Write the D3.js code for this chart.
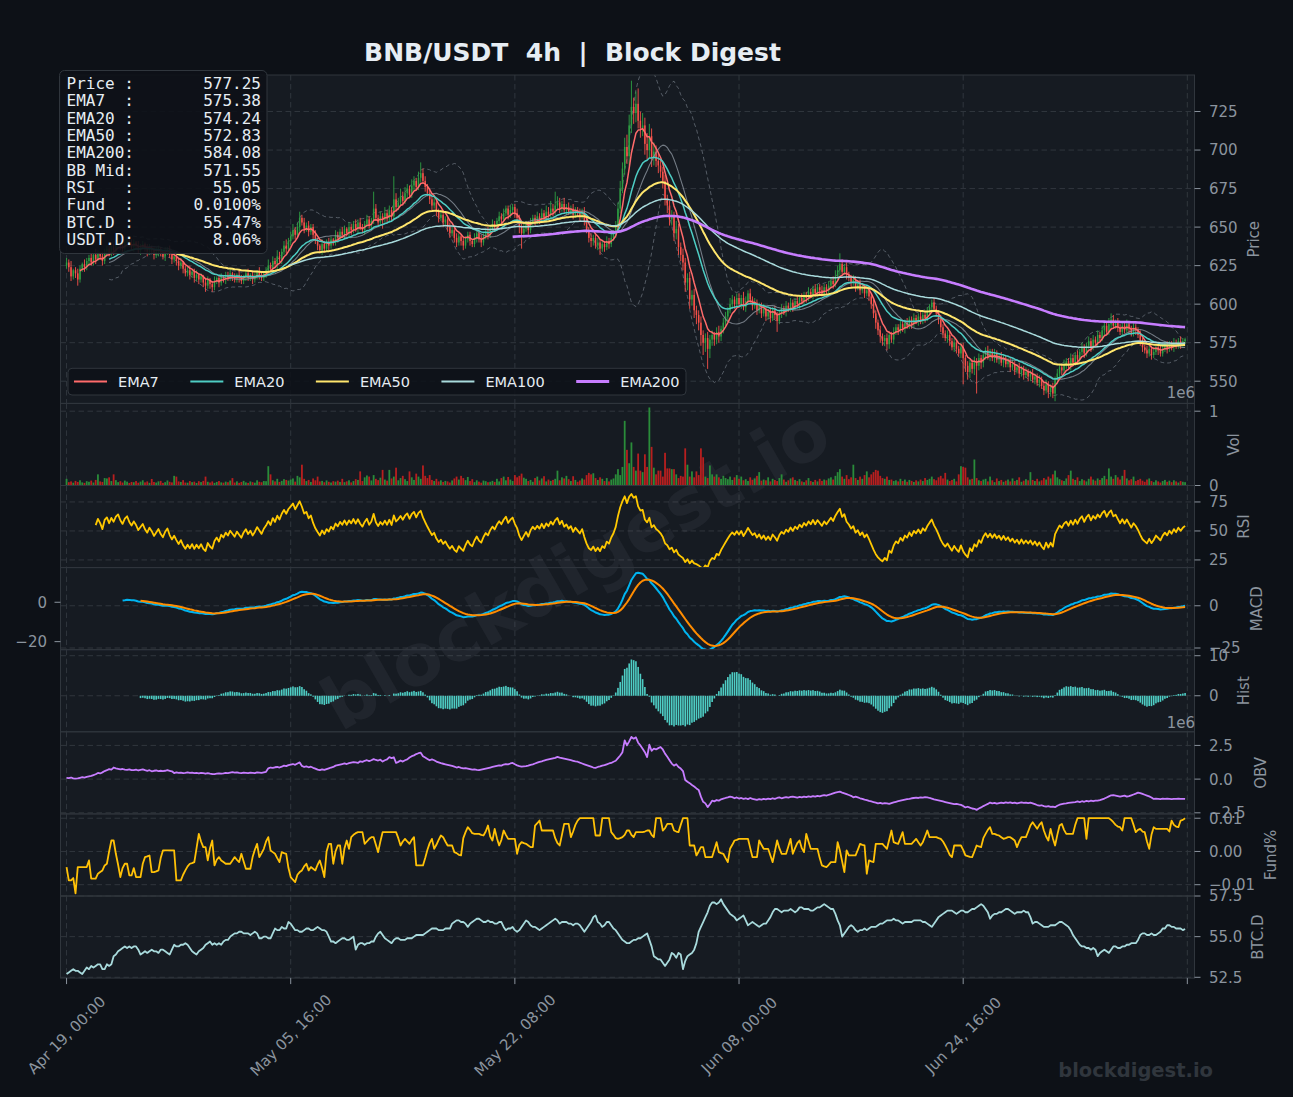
<!DOCTYPE html>
<html><head><meta charset="utf-8">
<script src="https://cdn.jsdelivr.net/npm/d3@7"></script>
<style>
html,body{margin:0;padding:0;background:#0d1117;}
svg{display:block;font-family:"DejaVu Sans",sans-serif;}
</style></head><body>
<svg id="chart" width="1293" height="1097"></svg>
<script>
// ---------------- DATA ----------------
const titleText = "BNB/USDT  4h  |  Block Digest";
const firstOpen = 625;
// 4h closes, candle 0 = Apr 19 00:00
const close = [
/*0*/627,624,618,622,620,616,623,626,624,628,
/*10*/630,627,632,629,633,631,628,634,636,633,
/*20*/637,635,639,641,638,636,640,642,639,637,
/*30*/640,638,635,637,639,636,634,637,635,632,
/*40*/634,636,633,631,634,636,632,629,631,628,
/*50*/625,627,623,620,622,619,621,617,619,616,
/*60*/618,614,612,616,613,611,615,617,614,618,
/*70*/616,619,617,620,618,616,619,617,615,618,
/*80*/620,617,619,616,618,621,619,617,620,622,
/*90*/625,623,628,626,631,629,634,638,636,641,
/*100*/644,648,645,650,656,653,649,651,647,650,
/*110*/645,641,638,635,639,636,640,638,642,640,
/*120*/645,643,647,645,649,646,650,648,652,649,
/*130*/653,650,648,652,655,651,654,662,656,653,
/*140*/657,655,659,656,661,657,668,663,666,670,
/*150*/667,672,675,671,677,680,676,682,685,680,
/*160*/676,672,668,664,666,660,656,658,653,655,
/*170*/650,646,648,643,640,644,641,638,642,645,
/*180*/641,639,643,646,642,640,644,647,645,649,
/*190*/652,650,654,657,655,659,662,658,661,663,
/*200*/659,656,650,646,649,652,648,653,656,654,
/*210*/657,655,659,656,660,658,662,660,664,666,
/*220*/662,665,661,663,660,662,658,661,659,657,
/*230*/660,654,648,643,641,643,638,640,636,639,
/*240*/637,641,639,643,646,651,662,675,688,702,
/*250*/696,716,728,724,730,719,714,716,704,700,
/*260*/709,695,699,693,690,686,680,668,664,655,
/*270*/657,646,649,637,632,627,614,617,603,606,
/*280*/596,593,588,580,575,578,571,577,580,577,
/*290*/582,579,584,588,592,596,600,603,600,604,
/*300*/600,604,598,602,607,603,599,601,596,599,
/*310*/594,597,592,595,591,596,593,589,594,597,
/*320*/595,599,597,601,598,602,600,604,602,606,
/*330*/604,608,606,610,607,611,609,607,611,609,
/*340*/612,615,613,618,622,626,621,624,619,617,
/*350*/614,616,611,613,609,611,607,609,605,600,
/*360*/594,588,583,579,576,578,574,580,577,582,
/*370*/585,583,587,584,588,586,590,587,591,589,
/*380*/592,589,593,591,595,598,601,597,594,590,
/*390*/585,581,578,580,576,572,575,571,568,572,
/*400*/565,560,556,562,558,563,560,565,562,567,
/*410*/570,566,569,565,568,564,566,562,565,561,
/*420*/563,559,561,557,559,555,558,554,556,553,
/*430*/555,551,553,549,551,547,544,548,543,546,
/*440*/542,551,555,559,557,561,563,560,565,562,
/*450*/567,564,569,572,568,573,576,572,577,575,
/*460*/580,578,583,586,582,587,590,586,588,585,
/*470*/582,586,583,587,584,581,585,583,580,576,
/*480*/572,570,568,571,567,569,572,570,568,571,
/*490*/573,571,574,572,575,573,576,574,576,577.25
];
// wick length above / below the candle body (price units)
const wickUp = [
3,2,4,1,2,3,2,1,3,2, 2,3,1,4,2,1,3,2,2,3, 1,2,3,2,1,3,2,1,2,3, 2,1,3,2,2,1,3,2,1,2, 3,2,1,2,3,1,2,3,2,1,
2,3,1,2,2,3,1,2,3,1, 2,1,3,2,1,2,3,1,2,2, 1,2,2,3,1,2,1,3,2,1, 2,3,1,2,2,1,3,2,1,2, 4,2,3,2,4,3,2,3,4,2,
3,4,2,3,4,2,3,2,3,2, 2,3,2,1,3,2,2,3,2,1, 3,2,2,3,2,1,3,2,2,3, 2,3,2,2,3,2,2,11,3,2, 3,2,4,2,3,2,15,4,3,5,
3,4,3,2,4,3,2,4,7,3, 3,2,3,2,3,2,2,3,2,2, 2,3,2,2,3,2,1,3,2,2, 2,1,3,2,2,3,2,2,3,2, 3,2,2,3,2,3,2,2,3,2,
2,3,2,2,3,2,2,3,2,2, 3,2,3,2,4,3,5,3,9,4, 3,2,4,2,3,2,3,2,2,3, 2,3,2,2,3,2,2,3,2,2, 2,3,2,3,2,3,4,5,4,6,
8,7,17,6,8,10,6,8,5,7, 8,5,6,4,5,4,3,4,3,3, 4,3,5,3,3,4,3,3,4,3, 4,3,3,4,3,3,4,3,3,2, 3,4,2,3,3,2,4,3,2,3,
3,2,4,3,2,3,2,3,2,2, 2,3,2,2,3,2,3,2,2,3, 2,3,2,3,2,2,3,2,3,2, 2,3,2,2,3,2,2,3,2,2, 3,2,3,4,3,7,3,2,3,2,
2,3,2,2,3,2,2,3,2,2, 3,2,2,3,2,2,3,2,2,3, 2,2,3,2,2,3,2,2,3,2, 2,3,2,2,3,2,2,3,2,2, 3,2,2,3,2,2,3,2,2,3,
3,2,3,2,2,3,2,3,2,2, 2,3,2,2,3,2,2,3,2,2, 2,2,3,2,2,3,2,2,3,2, 2,3,2,2,3,2,2,3,2,2, 3,2,3,2,2,3,2,2,3,2,
2,3,2,3,2,2,3,2,3,2, 3,2,3,2,3,4,4,3,2,3, 2,3,2,3,2,2,3,2,2,3, 2,2,3,2,2,3,2,2,3,2, 2,3,2,2,3,2,2,3,2,1
];
const wickDn = [
2,3,3,2,3,4,2,2,3,2, 3,2,2,3,1,2,3,2,3,2, 2,3,2,1,3,2,2,3,2,2, 3,2,2,3,1,2,3,2,2,3, 2,3,2,2,3,2,2,3,2,3,
3,2,3,2,2,3,2,3,2,3, 2,3,4,2,3,3,2,2,3,2, 2,3,2,2,3,2,2,3,2,2, 3,2,2,3,2,2,3,2,2,3, 3,2,3,2,3,2,3,2,3,2,
3,2,3,2,3,2,3,2,3,2, 3,2,3,2,3,2,2,3,2,2, 2,3,2,2,3,2,2,3,2,2, 3,2,2,3,2,2,3,2,2,3, 2,6,2,3,2,3,2,3,2,2,
3,2,3,2,2,3,2,2,3,2, 3,2,3,3,2,3,3,2,3,2, 3,3,2,3,3,2,3,3,2,2, 3,2,2,3,2,3,2,2,3,2, 2,3,2,2,3,2,2,3,2,2,
3,2,4,10,3,2,3,2,2,3, 2,3,2,2,3,2,2,3,2,2, 3,2,2,3,2,2,3,2,2,3, 2,3,2,3,4,3,2,3,4,2, 3,2,3,2,2,3,2,3,3,4,
5,6,5,7,6,5,6,5,7,6, 5,6,5,4,5,4,5,4,5,4, 4,5,4,5,4,5,6,5,6,4, 5,6,5,7,8,6,13,6,4,4, 3,4,3,3,2,3,2,3,3,2,
2,3,2,3,2,3,3,2,3,2, 3,2,3,2,3,2,3,7,2,3, 2,3,2,2,3,2,2,3,2,2, 3,2,2,3,2,2,3,2,2,3, 2,2,3,2,2,3,2,2,3,2,
3,2,3,2,3,2,3,2,3,3, 3,4,3,4,3,3,4,3,2,3, 2,3,2,2,3,2,2,3,2,2, 3,2,2,3,2,2,3,2,2,3, 3,3,2,3,3,2,3,3,2,3,
17,4,5,4,3,4,18,3,4,3, 3,2,3,2,3,2,3,2,3,2, 2,3,2,3,2,3,2,3,2,3, 3,2,3,2,3,2,3,2,4,3, 3,5,3,2,3,2,3,2,3,2,
2,3,2,2,3,2,2,3,2,2, 3,2,2,3,2,2,3,2,2,3, 2,3,2,2,3,2,2,3,2,3, 3,2,3,2,3,2,2,3,2,2, 2,3,2,2,3,2,2,3,2,2
];
// volume, thousands
const volK = [
/*0*/90,45,55,38,62,48,70,42,35,58, 50,66,40,75,150,55,48,100,95,110,
/*20*/60,150,72,45,58,40,66,52,35,48, 44,60,38,52,70,42,55,36,88,47,
/*40*/40,56,62,35,45,68,50,42,130,120, 55,48,72,40,38,60,45,52,34,58,
/*60*/46,62,120,50,40,55,35,48,60,42, 38,52,44,66,100,40,56,36,48,62,
/*80*/42,35,55,45,38,70,50,44,60,58, 260,150,70,55,90,48,62,85,75,66,
/*100*/80,95,52,130,110,280,90,60,75,48, 95,70,120,55,62,44,68,50,40,58,
/*120*/52,65,48,90,45,56,70,42,60,85, 75,190,60,110,135,120,68,140,90,72,
/*140*/105,210,80,65,210,95,120,240,70,100, 130,85,60,190,110,75,160,120,90,270,
/*160*/130,100,140,75,60,90,55,70,48,62, 55,40,68,95,120,80,130,100,72,115,
/*180*/60,85,45,70,52,38,66,58,44,50, 62,48,90,55,100,120,70,115,80,60,
/*200*/140,110,130,160,105,90,60,75,50,100, 120,68,95,125,55,80,62,75,90,200,
/*220*/70,110,95,130,85,60,125,75,50,68, 95,80,140,170,150,165,100,75,110,90,
/*240*/60,100,55,80,95,150,220,140,250,870, 480,300,580,250,200,430,200,180,420,250,
/*260*/1050,520,240,150,200,200,120,440,230,230, 220,220,150,100,130,120,500,280,120,190,
/*280*/110,190,140,500,380,120,100,270,150,120, 150,110,90,130,100,85,120,75,110,140,
/*300*/90,120,70,85,60,110,75,95,130,180, 65,80,70,110,55,90,75,60,100,150,
/*320*/80,50,70,95,110,75,60,85,55,45, 70,100,60,48,75,55,90,62,80,70,
/*340*/95,110,80,130,180,220,120,90,140,85, 110,280,100,75,120,90,140,190,110,150,
/*360*/180,210,200,130,100,90,120,75,80,60, 70,55,90,60,80,50,75,62,48,70,
/*380*/55,80,60,100,75,90,120,85,70,110, 130,95,170,80,60,75,90,55,150,260,
/*400*/250,240,110,80,90,350,100,70,60,80, 90,55,120,70,45,95,60,75,50,65,
/*420*/80,55,95,60,75,110,50,65,85,70, 180,75,60,90,55,70,100,80,120,95,
/*440*/150,200,110,85,70,60,95,140,200,90, 75,110,60,85,70,55,90,120,80,65,
/*460*/95,75,100,130,85,230,120,90,140,110, 80,130,210,95,70,85,120,60,75,90,
/*480*/65,50,80,95,60,45,70,55,40,60, 75,50,65,45,70,55,40,60,50,45
];
// on-balance volume, millions
const obvM = [
/*0*/0.10,0.08,0.12,0.06,0.04,0.05,0.10,0.14,0.11,0.16, 0.20,0.24,0.30,0.36,0.46,0.42,0.50,0.60,0.66,0.74,
/*20*/0.70,0.86,0.80,0.76,0.72,0.75,0.70,0.68,0.72,0.66, 0.66,0.70,0.64,0.68,0.72,0.66,0.62,0.66,0.58,0.62,
/*40*/0.64,0.60,0.62,0.60,0.62,0.66,0.62,0.58,0.45,0.50, 0.46,0.48,0.44,0.46,0.50,0.46,0.48,0.44,0.46,0.42,
/*60*/0.46,0.44,0.40,0.44,0.40,0.38,0.37,0.40,0.42,0.40, 0.42,0.46,0.44,0.48,0.52,0.48,0.50,0.46,0.44,0.48,
/*80*/0.46,0.44,0.48,0.46,0.44,0.50,0.48,0.46,0.50,0.54, 0.80,0.86,0.84,0.88,0.90,0.86,0.92,1.00,0.96,1.04,
/*100*/1.08,1.12,1.06,1.16,1.24,0.98,0.90,0.94,0.88,0.92, 0.84,0.78,0.70,0.66,0.72,0.68,0.74,0.80,0.86,0.90,
/*120*/1.00,1.04,1.08,1.12,1.16,1.12,1.18,1.22,1.26,1.24, 1.20,1.32,1.28,1.36,1.40,1.34,1.40,1.48,1.42,1.38,
/*140*/1.44,1.30,1.40,1.46,1.63,1.56,1.62,1.20,1.28,1.38, 1.30,1.40,1.46,1.60,1.70,1.76,1.86,1.92,1.96,1.70,
/*160*/1.60,1.50,1.40,1.46,1.40,1.30,1.24,1.18,1.14,1.10, 1.06,1.02,0.98,0.92,0.86,0.90,0.84,0.80,0.82,0.78,
/*180*/0.74,0.70,0.72,0.68,0.66,0.70,0.74,0.78,0.82,0.86, 0.90,0.94,0.98,1.02,1.00,1.08,1.12,1.10,1.16,1.20,
/*200*/1.10,1.02,0.96,0.92,0.94,0.96,1.00,1.06,1.10,1.16, 1.22,1.28,1.32,1.38,1.42,1.46,1.50,1.54,1.58,1.65,
/*220*/1.60,1.56,1.52,1.48,1.44,1.40,1.36,1.32,1.29,1.22, 1.16,1.10,1.04,0.98,0.92,0.86,0.84,0.90,0.94,1.00,
/*240*/1.04,1.10,1.16,1.20,1.29,1.36,1.56,1.75,2.00,2.87, 2.50,2.80,3.13,3.00,3.10,2.70,2.50,2.26,2.00,1.64,
/*260*/2.55,2.10,2.26,2.20,2.30,2.38,2.20,1.89,1.66,1.40, 1.15,1.00,1.10,0.90,0.78,0.60,-0.07,-0.20,-0.30,-0.44,
/*280*/-0.55,-0.69,-0.80,-1.30,-1.68,-1.80,-2.08,-1.86,-1.60,-1.65, -1.55,-1.60,-1.50,-1.45,-1.40,-1.36,-1.30,-1.34,-1.42,-1.36,
/*300*/-1.44,-1.40,-1.46,-1.42,-1.48,-1.40,-1.46,-1.50,-1.54,-1.48, -1.52,-1.46,-1.50,-1.44,-1.48,-1.42,-1.46,-1.40,-1.36,-1.42,
/*320*/-1.38,-1.34,-1.38,-1.32,-1.30,-1.34,-1.38,-1.32,-1.36,-1.30, -1.34,-1.28,-1.32,-1.26,-1.30,-1.24,-1.28,-1.22,-1.18,-1.22,
/*340*/-1.16,-1.12,-1.06,-1.00,-0.96,-0.93,-1.00,-1.06,-1.12,-1.18, -1.24,-1.35,-1.30,-1.36,-1.42,-1.46,-1.52,-1.56,-1.62,-1.66,
/*360*/-1.70,-1.74,-1.80,-1.76,-1.82,-1.78,-1.80,-1.84,-1.78,-1.72, -1.68,-1.64,-1.60,-1.56,-1.52,-1.48,-1.46,-1.42,-1.40,-1.38,
/*380*/-1.40,-1.36,-1.38,-1.34,-1.35,-1.40,-1.44,-1.50,-1.54,-1.58, -1.62,-1.66,-1.70,-1.74,-1.78,-1.82,-1.86,-1.84,-1.88,-1.91,
/*400*/-2.00,-2.10,-2.05,-2.12,-2.18,-2.20,-2.28,-2.18,-2.10,-2.00, -1.92,-1.84,-1.74,-1.80,-1.76,-1.82,-1.78,-1.74,-1.78,-1.72,
/*420*/-1.76,-1.72,-1.78,-1.74,-1.80,-1.76,-1.72,-1.76,-1.74,-1.78, -1.74,-1.80,-1.86,-1.92,-1.96,-1.94,-2.00,-2.04,-2.00,-2.06,
/*440*/-2.04,-2.08,-1.98,-1.90,-1.86,-1.82,-1.80,-1.76,-1.74,-1.72, -1.70,-1.66,-1.70,-1.64,-1.68,-1.62,-1.66,-1.60,-1.64,-1.60,
/*460*/-1.60,-1.56,-1.50,-1.44,-1.36,-1.28,-1.20,-1.18,-1.22,-1.26, -1.30,-1.26,-1.22,-1.30,-1.26,-1.20,-1.14,-1.08,-1.00,-1.04,
/*480*/-1.10,-1.16,-1.22,-1.28,-1.36,-1.47,-1.44,-1.46,-1.48,-1.45, -1.47,-1.44,-1.46,-1.48,-1.46,-1.47,-1.45,-1.47,-1.46,-1.47
];
// funding rate in units of 0.0001 %
const fundE4 = [
/*0*/-47,-87,-87,-80,-126,-47,-47,-47,-47,-47, -27,-82,-82,-82,-67,-62,-57,-42,-37,0,
/*20*/33,33,-7,-40,-77,-50,-37,-37,-72,-72, -50,-77,-77,-77,-37,-17,-15,-12,-62,-62,
/*40*/-60,-57,-20,3,3,3,3,3,3,-87, -87,-87,-70,-57,-45,-37,-35,-32,10,53,
/*60*/30,13,13,-27,10,33,-42,-25,-17,-27, -32,-37,-37,-37,-27,-17,-25,-32,-7,-30,
/*80*/-52,-52,-52,-17,5,23,-17,-5,8,30, 43,3,-2,-7,-20,-32,-2,-5,-7,-50,
/*100*/-77,-85,-92,-70,-62,-57,-45,-37,-57,-47, -52,-57,-40,-27,-50,-77,0,23,23,-37,
/*120*/0,18,18,-37,10,33,8,43,50,55, 58,58,58,23,30,38,43,43,20,-2,
/*140*/30,58,58,58,58,58,58,58,40,18, 30,38,30,23,35,43,-42,-42,-42,-42,
/*160*/-20,5,25,38,8,20,35,48,43,30, 18,18,18,-2,-5,-10,-12,40,58,73,
/*180*/65,55,53,53,53,50,48,60,78,45, 33,68,40,18,35,63,50,38,38,38,
/*200*/38,-7,20,28,25,23,18,13,13,78, 85,93,63,63,63,63,63,63,40,25,
/*220*/18,50,83,83,83,43,60,80,93,100, 100,100,100,100,100,100,48,48,48,100,
/*240*/100,100,100,58,50,40,38,40,43,50, 63,63,50,43,58,58,58,58,60,63,
/*260*/63,50,43,100,100,100,63,70,83,83, 83,63,60,58,80,100,100,100,18,18,
/*280*/18,-12,0,13,13,-17,-17,-17,-17,5, 28,-2,-5,-7,-20,-32,8,20,33,35,
/*300*/38,38,38,38,38,10,-17,-17,-17,33, 20,8,8,8,-12,-32,0,33,10,-7,
/*320*/-7,-7,15,38,-7,10,25,33,10,-2, 53,30,8,8,8,8,-20,-42,-45,-47,
/*340*/-40,-32,-32,-32,28,3,-30,-62,3,-12, -12,-12,-12,5,23,20,18,-67,-27,-30,
/*360*/-32,23,23,23,23,15,8,35,63,28, 25,23,40,58,23,23,23,23,30,38,
/*380*/28,18,28,45,63,43,43,43,43,40, 38,30,18,5,-10,-17,18,18,18,18,
/*400*/5,-12,-14,-16,-17,0,18,15,13,40, 53,65,73,53,53,50,48,43,38,40,
/*420*/43,43,38,33,13,30,43,43,43,60, 78,88,78,68,80,88,63,45,33,68,
/*440*/40,18,50,78,83,65,53,53,53,53, 80,100,100,100,100,38,100,100,100,100,
/*460*/100,100,100,100,100,100,95,88,80,75, 73,63,100,100,100,100,80,58,65,68,
/*480*/60,58,30,8,50,73,68,68,68,68, 68,68,60,93,80,75,73,93,95,100
];
// BTC dominance, %
const btcDom = [
/*0*/52.7,52.8,52.9,53.0,52.9,52.9,52.8,52.7,52.9,53.1, 53.0,53.2,53.1,53.2,53.3,53.3,53.0,53.0,53.3,53.2,
/*20*/53.3,53.8,53.9,54.1,54.2,54.3,54.4,54.3,54.4,54.3, 54.4,54.4,54.2,53.9,54.0,54.1,54.0,54.1,54.2,54.1,
/*40*/54.1,54.0,54.2,54.2,54.1,54.0,53.9,54.2,54.5,54.4, 54.4,54.5,54.5,54.6,54.5,54.3,54.1,54.0,53.9,54.1,
/*60*/54.2,54.3,54.5,54.6,54.7,54.5,54.6,54.5,54.6,54.5, 54.7,54.8,54.8,55.0,55.1,55.2,55.2,55.3,55.3,55.2,
/*80*/55.2,55.2,55.1,55.2,55.3,55.2,54.9,54.9,55.0,55.0, 54.9,54.9,55.2,55.5,55.4,55.4,55.6,55.5,55.5,55.9,
/*100*/55.8,55.6,55.4,55.4,55.3,55.3,55.4,55.5,55.5,55.4, 55.4,55.5,55.6,55.5,55.4,55.4,55.3,55.0,54.7,54.7,
/*120*/54.6,54.7,54.8,54.9,54.9,54.8,54.8,54.9,55.0,54.2, 54.5,54.6,54.6,54.5,54.6,54.6,54.7,54.7,55.0,55.2,
/*140*/55.3,55.1,54.9,54.8,54.7,54.6,54.8,54.9,54.9,54.8, 54.8,54.8,54.9,54.9,54.9,55.0,55.1,55.1,55.1,55.1,
/*160*/55.2,55.3,55.4,55.5,55.5,55.5,55.4,55.4,55.4,55.5, 55.5,55.5,55.8,55.9,56.0,56.0,55.9,55.9,55.8,55.6,
/*180*/55.8,55.9,56.0,56.1,56.1,56.0,55.9,55.9,56.0,55.9, 55.9,55.8,55.8,55.9,55.9,55.6,55.4,55.5,55.5,55.6,
/*200*/55.4,55.3,55.4,55.6,55.8,56.0,55.9,55.7,55.6,55.6, 55.5,55.4,55.5,55.6,55.7,55.8,55.9,56.0,56.1,56.0,
/*220*/55.8,55.9,55.9,55.9,55.8,55.8,55.7,55.8,55.8,55.7, 55.5,55.3,55.5,55.7,55.9,56.2,56.3,55.9,55.8,55.6,
/*240*/55.7,55.9,55.9,55.7,55.5,55.4,55.2,55.0,54.8,54.7, 54.6,54.6,54.7,54.8,54.8,54.9,54.9,55.0,55.1,55.2,
/*260*/54.8,54.4,53.8,53.7,53.6,53.6,53.4,53.2,53.4,53.6, 54.0,53.9,53.7,54.0,53.9,53.0,53.5,53.8,53.9,54.0,
/*280*/54.2,54.6,55.3,55.6,55.9,56.2,56.5,56.9,57.1,57.1, 57.0,57.1,57.3,57.0,56.8,56.6,56.4,56.3,56.2,56.0,
/*300*/56.1,56.2,56.3,56.0,55.7,55.8,55.9,55.8,55.7,55.6, 55.7,55.8,55.8,56.0,56.2,56.5,56.7,56.7,56.6,56.5,
/*320*/56.6,56.6,56.6,56.7,56.6,56.5,56.6,56.8,56.8,56.7, 56.7,56.7,56.6,56.6,56.7,56.8,56.8,56.9,57.0,56.9,
/*340*/56.8,56.7,56.7,56.4,56.0,55.7,55.0,55.2,55.4,55.6, 55.7,55.6,55.4,55.3,55.4,55.4,55.5,55.4,55.5,55.6,
/*360*/55.6,55.6,55.7,55.8,55.8,55.9,56.0,56.0,56.0,56.1, 56.0,56.0,55.9,55.8,55.9,55.9,55.9,55.9,56.0,56.0,
/*380*/56.0,56.0,55.9,55.9,55.8,55.7,55.6,55.8,56.0,56.2, 56.3,56.4,56.5,56.6,56.6,56.6,56.5,56.4,56.5,56.6,
/*400*/56.6,56.5,56.5,56.6,56.7,56.7,56.8,56.9,57.0,56.9, 56.7,56.5,56.1,56.3,56.4,56.4,56.5,56.5,56.6,56.7,
/*420*/56.7,56.6,56.5,56.4,56.5,56.5,56.5,56.6,56.5,56.5, 56.2,55.8,55.9,55.9,55.8,55.7,55.6,55.6,55.6,55.7,
/*440*/55.7,55.7,55.8,55.9,55.9,55.8,55.7,55.6,55.4,55.1, 54.9,54.7,54.5,54.4,54.4,54.3,54.3,54.2,54.3,54.2,
/*460*/53.8,54.0,54.1,54.2,54.1,54.0,54.2,54.4,54.4,54.3, 54.3,54.4,54.4,54.5,54.5,54.6,54.6,54.6,54.8,55.1,
/*480*/55.2,55.2,55.1,55.1,55.2,55.1,55.1,55.2,55.3,55.5, 55.5,55.7,55.7,55.6,55.6,55.5,55.5,55.5,55.4,55.47
];
const statLabels = ["Price :","EMA7  :","EMA20 :","EMA50 :","EMA200:","BB Mid:","RSI   :","Fund  :","BTC.D :","USDT.D:"];
const statValues = ["577.25","575.38","574.24","572.83","584.08","571.55","55.05","0.0100%","55.47%","8.06%"];
const xTickIndex = [0,100,200,300,400,500];
const xTickLabels = ["Apr 19, 00:00","May 05, 16:00","May 22, 08:00","Jun 08, 00:00","Jun 24, 16:00"];
const priceTicks = [550,575,600,625,650,675,700,725];
const volTicks = [0,1];
const rsiTicks = [25,50,75];
const macdTicks = [-25,0];
const macdLeftTicks = [-20,0];
const histTicks = [0,10];
const obvTicks = [-2.5,0,2.5];
const fundTicks = [-0.01,0,0.01];
const btcTicks = [52.5,55,57.5];
const emaSpans = [7,20,50,100,200];
const emaNames = ["EMA7","EMA20","EMA50","EMA100","EMA200"];

// -------------- checks --------------
[["close",close],["wickUp",wickUp],["wickDn",wickDn],["volK",volK],["obvM",obvM],["fundE4",fundE4],["btcDom",btcDom]]
 .forEach(([n,a])=>{ if(a.length!==500) throw new Error(n+" length "+a.length); });

// -------------- indicators --------------
const N = close.length;
const open = close.map((c,i)=> i===0 ? firstOpen : close[i-1]);
const high = close.map((c,i)=> Math.max(open[i],c)+wickUp[i]);
const low  = close.map((c,i)=> Math.min(open[i],c)-wickDn[i]);
function ema(arr, span, minP){
  const a=2/(span+1); const out=new Array(arr.length).fill(null); let e=null,cnt=0;
  for(let i=0;i<arr.length;i++){ const v=arr[i]; if(v==null) continue; e=(e==null)?v:a*v+(1-a)*e; cnt++; if(cnt>=minP) out[i]=e; }
  return out;
}
const emas = emaSpans.map(s=>ema(close,s,s));
const bbMid=[],bbUp=[],bbLo=[];
for(let i=0;i<N;i++){
  if(i<19){bbMid.push(null);bbUp.push(null);bbLo.push(null);continue;}
  const w=close.slice(i-19,i+1); const m=d3.mean(w); const sd=d3.deviation(w);
  bbMid.push(m); bbUp.push(m+2*sd); bbLo.push(m-2*sd);
}
const rsi=new Array(N).fill(null);
{ const al=1/14; let ag=0,alo=0;
  for(let i=0;i<N;i++){ const d=i===0?0:close[i]-close[i-1]; const g=Math.max(d,0), l=Math.max(-d,0);
    if(i===0){ag=g;alo=l;} else {ag=al*g+(1-al)*ag; alo=al*l+(1-al)*alo;}
    if(i>=13) rsi[i]= alo===0?100:100-100/(1+ag/alo); } }
const e12=ema(close,12,12), e26=ema(close,26,26);
const macd=close.map((c,i)=> (e12[i]!=null&&e26[i]!=null)? e12[i]-e26[i] : null);
const signal=ema(macd,9,9);
const hist=macd.map((m,i)=> (m!=null&&signal[i]!=null)? m-signal[i] : null);
const vol=volK.map(v=>v/1000);
const fund=fundE4.map(v=>v/10000);

// -------------- layout --------------
const svg=d3.select("#chart");
const BG="#0d1117", PBG="#161b22", GRID="#30363d", TXT="#8b949e", WHITE="#e6edf3";
const FS=15;
const L=60.5, R=1194.5;
const x=d3.scaleLinear().domain([-2.7,503.2]).range([L,R]);
const step=x(1)-x(0);
svg.append("rect").attr("width",1293).attr("height",1097).attr("fill",BG);

const fmtInt=d=>String(d), f1=d3.format(".1f"), f2=d3.format(".2f");
const panels=[
 {k:"price",top:75,bot:403.4,dom:[535.6,748.7],ticks:priceTicks,fmt:fmtInt,label:"Price"},
 {k:"vol",top:403.4,bot:485.5,dom:[0,1.105],ticks:volTicks,fmt:fmtInt,label:"Vol"},
 {k:"rsi",top:485.5,bot:567.6,dom:[18.4,89.2],ticks:rsiTicks,fmt:fmtInt,label:"RSI"},
 {k:"macd",top:567.6,bot:649.7,dom:[-26,22.6],ticks:macdTicks,fmt:d3.format("d"),label:"MACD"},
 {k:"hist",top:649.7,bot:731.8,dom:[-9,11.5],ticks:histTicks,fmt:fmtInt,label:"Hist"},
 {k:"obv",top:731.8,bot:813.9,dom:[-2.58,3.51],ticks:obvTicks,fmt:f1,label:"OBV"},
 {k:"fund",top:813.9,bot:896,dom:[-0.0134,0.0113],ticks:fundTicks,fmt:f2,label:"Fund%"},
 {k:"btc",top:896,bot:978.1,dom:[52.45,57.5],ticks:btcTicks,fmt:f1,label:"BTC.D"}
];
const P={};
const defs=svg.append("defs");
const gBg=svg.append("g"), gGrid=svg.append("g"), gWm=svg.append("g"), gData=svg.append("g"), gAxes=svg.append("g"), gOver=svg.append("g");
panels.forEach(p=>{
  p.y=d3.scaleLinear().domain(p.dom).range([p.bot,p.top]);
  P[p.k]=p;
  gBg.append("rect").attr("x",L).attr("y",p.top).attr("width",R-L).attr("height",p.bot-p.top).attr("fill",PBG);
  defs.append("clipPath").attr("id","clip-"+p.k).append("rect").attr("x",L).attr("y",p.top).attr("width",R-L).attr("height",p.bot-p.top);
  p.g=gData.append("g").attr("clip-path","url(#clip-"+p.k+")");
  p.ticks.forEach(t=>{ const yy=p.y(t); if(yy<p.top-0.5||yy>p.bot+0.5) return;
    gGrid.append("line").attr("x1",L).attr("x2",R).attr("y1",yy).attr("y2",yy).attr("stroke",GRID).attr("stroke-width",1).attr("stroke-dasharray","5.5,3.5"); });
  xTickIndex.forEach(t=>{ gGrid.append("line").attr("x1",x(t)).attr("x2",x(t)).attr("y1",p.top).attr("y2",p.bot).attr("stroke",GRID).attr("stroke-width",1).attr("stroke-dasharray","5.5,3.5"); });
  gAxes.append("rect").attr("x",L).attr("y",p.top).attr("width",R-L).attr("height",p.bot-p.top).attr("fill","none").attr("stroke",GRID).attr("stroke-width",1);
  let maxW=0;
  p.ticks.forEach(t=>{ const yy=p.y(t);
    gAxes.append("line").attr("x1",R).attr("x2",R+6).attr("y1",yy).attr("y2",yy).attr("stroke",TXT).attr("stroke-width",1);
    const tx=gAxes.append("text").attr("x",1209).attr("y",yy).attr("dy","0.36em").attr("fill",TXT).attr("font-size",FS).text(p.fmt(t));
    maxW=Math.max(maxW,tx.node().getComputedTextLength()); });
  const lx=1209+maxW+15.5, ly=(p.top+p.bot)/2;
  gAxes.append("text").attr("x",lx).attr("y",ly).attr("transform",`rotate(-90,${lx},${ly})`).attr("text-anchor","middle").attr("dy","0.36em").attr("fill",TXT).attr("font-size",FS).text(p.label);
});
// MACD left axis
{ const p=P.macd; const yl=d3.scaleLinear().domain([-24.1,17.6]).range([p.bot,p.top]);
  macdLeftTicks.forEach(t=>{ const yy=yl(t);
    gAxes.append("line").attr("x1",L-6).attr("x2",L).attr("y1",yy).attr("y2",yy).attr("stroke",TXT);
    gAxes.append("text").attr("x",47).attr("y",yy).attr("dy","0.36em").attr("text-anchor","end").attr("fill",TXT).attr("font-size",FS).text(d3.format("d")(t)); }); }
gAxes.append("text").attr("x",1195).attr("y",398).attr("text-anchor","end").attr("fill",TXT).attr("font-size",FS).text("1e6");
gAxes.append("text").attr("x",1195).attr("y",727.5).attr("text-anchor","end").attr("fill",TXT).attr("font-size",FS).text("1e6");
{ const p=P.btc;
  xTickIndex.forEach((t,k)=>{ const xx=x(t);
    gAxes.append("line").attr("x1",xx).attr("x2",xx).attr("y1",p.bot).attr("y2",p.bot+6).attr("stroke",TXT);
    if(xTickLabels[k]){ const yc=1035;
      gAxes.append("text").attr("x",xx).attr("y",yc).attr("text-anchor","middle").attr("dy","0.36em")
        .attr("transform",`rotate(-45,${xx},${yc})`).attr("fill",TXT).attr("font-size",FS).text(xTickLabels[k]); } }); }

// watermark
gWm.append("text").attr("x",575).attr("y",567).attr("text-anchor","middle").attr("dy","0.36em")
  .attr("transform","rotate(-30,575,567)").attr("font-size",72).attr("font-weight","bold")
  .attr("fill","#c9d1d9").attr("fill-opacity",0.06).text("blockdigest.io");

// -------------- marks --------------
function drawLine(p,vals,color,w,extra){
  const ln=d3.line().defined(d=>d.v!=null&&!isNaN(d.v)).x(d=>x(d.i)).y(d=>p.y(d.v));
  const path=p.g.append("path").datum(vals.map((v,i)=>({i,v}))).attr("d",ln).attr("fill","none")
    .attr("stroke",color).attr("stroke-width",w).attr("stroke-linejoin","round");
  if(extra) extra(path);
  return path;
}
const UP="#2ea043", DN="#f85149";
const pp=P.price;
drawLine(pp,bbUp,"#8b949e",1,s=>s.attr("stroke-dasharray","4,3").attr("stroke-opacity",0.55));
drawLine(pp,bbLo,"#8b949e",1,s=>s.attr("stroke-dasharray","4,3").attr("stroke-opacity",0.55));
const cg=pp.g.append("g");
for(let i=0;i<N;i++){
  const up=close[i]>=open[i], col=up?UP:DN;
  cg.append("line").attr("x1",x(i)).attr("x2",x(i)).attr("y1",pp.y(high[i])).attr("y2",pp.y(low[i])).attr("stroke",col).attr("stroke-width",0.9);
  const y1=pp.y(Math.max(open[i],close[i])), y2=pp.y(Math.min(open[i],close[i]));
  cg.append("rect").attr("x",x(i)-step*0.33).attr("width",step*0.66).attr("y",y1).attr("height",Math.max(0.8,y2-y1)).attr("fill",col);
}
drawLine(pp,bbMid,"#8b949e",1.1,s=>s.attr("stroke-opacity",0.8));
const emaColors=["#ff6b6b","#4ecdc4","#ffe66d","#a8dadc","#c77dff"];
const emaWidths=[1.5,1.5,2,1.5,2.6];
emas.forEach((e,k)=>drawLine(pp,e,emaColors[k],emaWidths[k]));
const pv=P.vol;
for(let i=0;i<N;i++){
  const up=close[i]>=open[i];
  pv.g.append("rect").attr("x",x(i)-step*0.4).attr("width",step*0.8).attr("y",pv.y(vol[i])).attr("height",pv.y(0)-pv.y(vol[i]))
    .attr("fill",up?"#2a8c3a":"#b81f1f");
}
drawLine(P.rsi,rsi,"#ffc800",1.8);
drawLine(P.macd,macd,"#00b4f0",2);
drawLine(P.macd,signal,"#ff8c00",2);
const ph=P.hist;
for(let i=0;i<N;i++){ if(hist[i]==null) continue;
  const y0=ph.y(0), yv=ph.y(hist[i]);
  ph.g.append("rect").attr("x",x(i)-step*0.36).attr("width",step*0.72).attr("y",Math.min(y0,yv)).attr("height",Math.abs(yv-y0)).attr("fill","#4ecdc4"); }
drawLine(P.obv,obvM,"#c77dff",1.8);
drawLine(P.fund,fund,"#ffc107",1.8);
drawLine(P.btc,btcDom,"#a8dadc",1.8);

// -------------- legends / text --------------
{ const g=gOver.append("g");
  const box=g.append("rect").attr("x",68).attr("y",368.3).attr("height",26.7).attr("rx",4).attr("fill",BG).attr("fill-opacity",0.85).attr("stroke",GRID);
  let cx=74;
  emaNames.forEach((n,k)=>{
    g.append("line").attr("x1",cx).attr("x2",cx+33).attr("y1",381.5).attr("y2",381.5).attr("stroke",emaColors[k]).attr("stroke-width",k===4?3:2.2);
    const t=g.append("text").attr("x",cx+44).attr("y",381.5).attr("dy","0.36em").attr("fill",WHITE).attr("font-size",14.5).text(n);
    const w=t.node().getComputedTextLength();
    cx=cx+44+w+31.5;
    if(k===emaNames.length-1) box.attr("width",cx-31.5+6.5-68);
  }); }
{ const g=gOver.append("g");
  g.append("rect").attr("x",59.5).attr("y",70.5).attr("width",207.5).attr("height",183).attr("rx",5).attr("fill",BG).attr("fill-opacity",0.9).attr("stroke",GRID);
  statLabels.forEach((s,k)=>{ const yy=89+k*17.33;
    g.append("text").attr("x",66.5).attr("y",yy).attr("fill",WHITE).attr("font-family","DejaVu Sans Mono").attr("font-size",16).style("white-space","pre").text(s);
    g.append("text").attr("x",261).attr("y",yy).attr("text-anchor","end").attr("fill",WHITE).attr("font-family","DejaVu Sans Mono").attr("font-size",16).text(statValues[k]); }); }
gOver.append("text").attr("x",572.5).attr("y",61).attr("text-anchor","middle").attr("fill",WHITE).attr("font-size",25).attr("font-weight","bold").style("white-space","pre").text(titleText);
gOver.append("text").attr("x",1213).attr("y",1077).attr("text-anchor","end").attr("fill","#30363d").attr("font-size",19.5).attr("font-weight","bold").text("blockdigest.io");
</script></body></html>
